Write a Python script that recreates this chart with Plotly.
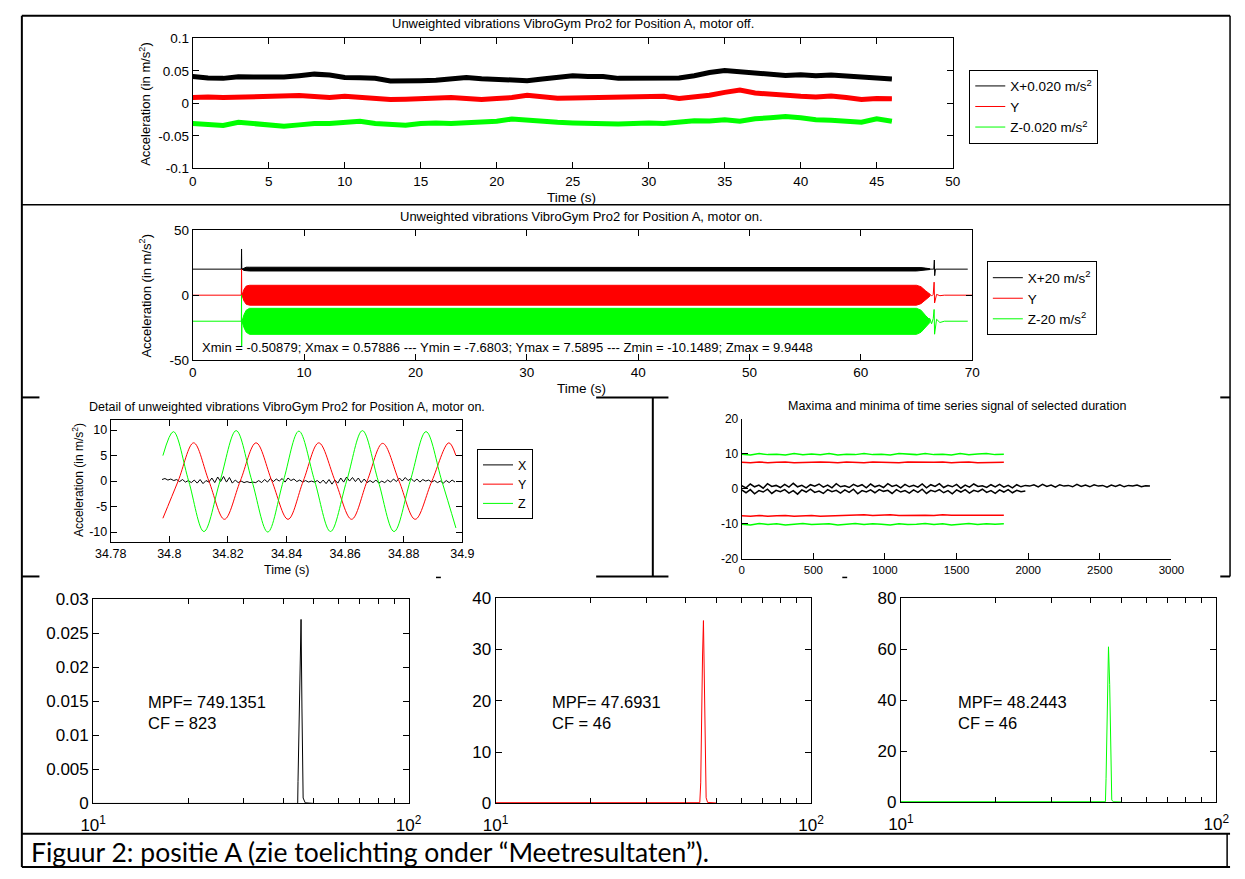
import numpy as np
import plotly.graph_objects as go

W, H = 1245, 879
FONT = "Liberation Sans, Arial, sans-serif"
BLACK, RED, GREEN = "#000000", "#ff0000", "#00ff00"

# ---------------- Panel 1: motor off ----------------
off_t = list(range(0, 47))
off_x = [0.0415, 0.039, 0.0385, 0.041, 0.0405, 0.040, 0.0405, 0.0425, 0.045, 0.0435,
         0.040, 0.0395, 0.0385, 0.0345, 0.034, 0.035, 0.0355, 0.0375, 0.040, 0.038,
         0.0375, 0.0365, 0.035, 0.0375, 0.040, 0.0425, 0.0415, 0.0415, 0.0385, 0.0385,
         0.0385, 0.0375, 0.039, 0.0425, 0.0475, 0.0505, 0.0485, 0.046, 0.0435, 0.043,
         0.044, 0.0425, 0.0435, 0.042, 0.0405, 0.039, 0.0375]
off_y = [0.009, 0.010, 0.009, 0.0095, 0.010, 0.011, 0.0105, 0.012, 0.0105, 0.009,
         0.011, 0.0095, 0.0075, 0.006, 0.0065, 0.0075, 0.0085, 0.009, 0.0075, 0.006,
         0.0075, 0.009, 0.0125, 0.010, 0.008, 0.0085, 0.009, 0.0095, 0.010, 0.0095,
         0.010, 0.011, 0.0075, 0.010, 0.0125, 0.017, 0.0205, 0.016, 0.014, 0.0125,
         0.011, 0.010, 0.0115, 0.009, 0.006, 0.0075, 0.007]
off_z = [-0.031, -0.0325, -0.034, -0.029, -0.031, -0.0325, -0.035, -0.033, -0.031, -0.031,
         -0.030, -0.0275, -0.031, -0.033, -0.0335, -0.031, -0.030, -0.031, -0.030, -0.029,
         -0.0275, -0.024, -0.026, -0.0275, -0.029, -0.030, -0.031, -0.031, -0.0315, -0.031,
         -0.030, -0.031, -0.029, -0.0265, -0.027, -0.025, -0.0275, -0.0235, -0.022, -0.020,
         -0.022, -0.025, -0.026, -0.0275, -0.029, -0.0235, -0.0275]
off_names = ["X+0.020 m/s<sup>2</sup>", "Y", "Z-0.020 m/s<sup>2</sup>"]

# ---------------- Panel 2: motor on ----------------
on_x_t = [0, 4.36, 4.38, 4.40, 66.55, 66.60, 66.63, 66.70, 69.6]
on_x = [20, 20, 35.5, 20, 20, 27, 15, 20, 20]
on_y_t = [0, 4.36, 4.38, 4.40, 66.2, 66.35, 66.5, 66.58, 66.62, 66.8, 67.1, 67.5, 70]
on_y = [0, 0, 20, 0, 0.8, -0.7, 0.6, 10, -6, 0.6, -0.4, 0, 0]
on_z_t = [0, 4.36, 4.38, 4.39, 4.42, 66.2, 66.35, 66.5, 66.58, 66.62, 66.8, 67.1, 67.5, 69.6]
on_z = [-20, -20, 0, -39, -20, -18, -22, -18, -11, -30, -18.5, -21, -20, -20]
env_t = [4.42, 4.6, 4.8, 5.1, 65.0, 65.4, 65.8, 66.2]
env_x_hi = [20, 21.0, 21.5, 21.5, 21.5, 21.2, 20.8, 20.3]
env_x_lo = [20, 19.0, 18.6, 18.6, 18.6, 18.9, 19.3, 19.7]
env_y_hi = [0, 4.5, 7.0, 7.6, 7.6, 6.5, 3.5, 0.8]
env_y_lo = [0, -4.5, -7.0, -7.7, -7.7, -6.5, -3.5, -0.8]
env_z_hi = [-20, -15, -11.5, -10.1, -10.1, -11.5, -15.5, -19]
env_z_lo = [-20, -25, -28.5, -30.1, -30.1, -28.5, -24.5, -21]
on_names = ["X+20 m/s<sup>2</sup>", "Y", "Z-20 m/s<sup>2</sup>"]
on_stats = ("Xmin = -0.50879; Xmax = 0.57886 --- Ymin = -7.6803; Ymax = 7.5895 --- "
            "Zmin = -10.1489; Zmax = 9.9448")

# ---------------- Panel 3: detail ----------------
det_t0, det_dt = 34.7975, 0.001
det_x = [0.3, 0.5, 0.2, 0.4, 0.1, 0.3, -0.1, 0.3, -0.2, 0.1,
         -0.3, 0.2, -0.4, 0.3, -0.5, 0.1, -0.2, 0.6, -0.3, 0.8,
         -0.1, 0.9, -0.2, 0.7, -0.4, 0.2, -0.3, 0.0, -0.3, -0.1,
         -0.3, -0.2, -0.3, 0.1, -0.3, 0.3, -0.2, 0.5, -0.1, 0.4,
         0.0, 0.5, -0.2, 0.6, 0.1, 0.4, -0.1, 0.2, -0.2, 0.1,
         -0.2, 0.0, -0.2, 0.1, -0.4, 0.2, -0.5, 0.3, -0.6, 0.2,
         -0.4, 0.6, -0.2, 0.8, 0.0, 0.7, -0.1, 0.6, -0.3, 0.4,
         -0.3, 0.1, -0.3, 0.2, -0.4, 0.0, -0.3, 0.2, -0.2, 0.4,
         -0.1, 0.6, 0.0, 0.7, 0.1, 0.5, -0.1, 0.4, -0.2, 0.3,
         0.0, 0.2, -0.2, 0.1, -0.3, 0.0, -0.4, 0.1, -0.3, 0.2, -0.2]
det_x_t = list(det_t0 + det_dt * np.arange(len(det_x)))
det_y_t = [34.7978, 34.8030, 34.8083, 34.8135, 34.8188, 34.8242, 34.8296, 34.8350, 34.8405,
           34.8457, 34.8510, 34.8566, 34.8622, 34.8675, 34.8728, 34.8784, 34.8839, 34.8896,
           34.8954, 34.8978]
det_y = [-7.3, 0, 7.5, 0, -7.5, 0, 7.5, 0, -7.5, 0, 7.5, 0, -7.5, 0, 7.4, 0, -7.5, 0, 7.5, 5.0]
det_z_t = [34.7978, 34.8014, 34.8066, 34.8118, 34.8173, 34.8228, 34.8282, 34.8336, 34.8389,
           34.8442, 34.8496, 34.8550, 34.8605, 34.8659, 34.8713, 34.8767, 34.8822, 34.8876,
           34.8930, 34.8978]
det_z = [5.0, 9.7, 0, -9.9, 0, 9.9, 0, -10.0, 0, 9.8, 0, -9.9, 0, 9.9, 0, -9.9, 0, 9.7, 0, -9.2]
det_ticks = [34.78, 34.80, 34.82, 34.84, 34.86, 34.88, 34.90]
det_ticktext = ["34.78", "34.8", "34.82", "34.84", "34.86", "34.88", "34.9"]

# ---------------- Panel 4: maxima / minima ----------------
mm_idx = list(range(0, 1831, 61))
mm_gmax = [9.9, 9.7, 10.1, 9.8, 9.9, 9.7, 10.1, 9.8, 10.0, 9.8, 10.1, 9.7, 9.9, 9.8, 10.1, 9.8,
           9.9, 9.7, 10.1, 9.9, 9.8, 10.1, 9.8, 9.9, 9.7, 10.1, 9.8, 10.0, 10.1, 9.8, 9.9]
mm_rmax = [7.6, 7.5, 7.7, 7.5, 7.6, 7.7, 7.5, 7.6, 7.5, 7.7, 7.6, 7.5, 7.7, 7.6, 7.5, 7.7,
           7.6, 7.6, 7.5, 7.7, 7.6, 7.5, 7.6, 7.7, 7.5, 7.6, 7.7, 7.5, 7.6, 7.6, 7.6]
mm_rmin = [-7.7, -7.8, -7.6, -7.8, -7.7, -7.6, -7.8, -7.7, -7.6, -7.8, -7.7, -7.6, -7.5, -7.6,
           -7.4, -7.6, -7.5, -7.4, -7.6, -7.5, -7.4, -7.5, -7.6, -7.4, -7.5, -7.5, -7.4, -7.6,
           -7.5, -7.4, -7.5]
mm_gmin = [-10.1, -10.3, -9.9, -10.2, -10.0, -10.3, -10.1, -9.9, -10.2, -10.1, -10.0, -10.3,
           -10.1, -9.9, -10.2, -10.0, -10.1, -10.3, -10.0, -10.2, -10.1, -9.9, -10.2, -10.0,
           -10.3, -10.1, -9.9, -10.2, -10.0, -10.1, -10.0]
mm_xmax_idx = list(range(0, 2851, 30))
mm_xmax = [0.9, 0.3, 1.4, 0.6, 1.1, 0.2, 1.5, 0.7, 1.0, 0.4, 1.3, 0.5, 1.6, 0.6, 1.0, 0.3, 1.2, 0.8, 1.4, 0.5,
           1.1, 0.3, 1.5, 0.6, 0.9, 0.4, 1.3, 0.7, 1.2, 0.3, 1.4, 0.6, 1.0, 0.4, 1.5, 0.7, 1.1, 0.3, 1.3, 0.6,
           1.0, 0.5, 1.4, 0.3, 1.2, 0.7, 1.5, 0.4, 1.0, 0.6, 1.3, 0.2, 1.1, 0.5, 1.4, 0.7, 0.9, 0.4, 1.2, 0.6,
           1.3, 0.5, 1.0, 0.3, 1.2, 0.6, 1.0,
           0.8, 1.2, 0.6, 1.3, 0.7, 1.1, 0.5, 1.2, 0.8, 1.0, 0.6, 1.3, 0.7, 1.1, 0.6, 1.2, 0.8, 1.0, 0.5, 1.1,
           0.7, 1.2, 0.6, 1.0, 0.8, 1.1, 0.6, 0.9, 0.8]
mm_xmin_idx = list(range(0, 2001, 30))
mm_xmin = [-0.3, -1.1, -0.2, -1.4, -0.5, -0.9, -0.1, -1.3, -0.4, -0.8, -0.2, -1.2, -0.5, -1.5, -0.3, -0.9, -0.1, -1.0, -0.6, -1.3,
           -0.2, -0.8, -0.4, -1.2, -0.3, -1.0, -0.1, -1.4, -0.5, -0.9, -0.3, -1.1, -0.2, -0.7, -0.4, -1.3, -0.2, -0.9, -0.5, -1.2,
           -0.3, -1.0, -0.1, -1.3, -0.4, -0.8, -0.2, -1.1, -0.5, -1.4, -0.3, -0.9, -0.2, -1.2, -0.4, -0.8, -0.1, -1.0, -0.5, -1.3,
           -0.3, -0.9, -0.2, -1.1, -0.4, -0.8, -0.6]

# ---------------- Panels 5-7: spectra ----------------
spec_x_f = [10, 44.5, 44.6, 45.2, 45.6, 45.9, 46.3, 47.0, 50]
spec_x_a = [0, 0, 0.0032, 0.0217, 0.027, 0.014, 0.0008, 0.0001, 0]
spec_y_f = [10, 44.4, 44.7, 44.9, 45.3, 45.6, 46.0, 46.5, 47.0, 50]
spec_y_a = [0.15, 0.15, 4.0, 14.7, 28.7, 35.6, 18.5, 1.1, 0.2, 0.1]
spec_z_f = [10, 44.5, 44.7, 45.1, 45.5, 45.9, 46.2, 46.6, 47.1, 50]
spec_z_a = [0.3, 0.3, 9.3, 36.7, 60.9, 46.2, 16.9, 1.0, 0.3, 0.2]
spec_labels = ["MPF= 749.1351<br>CF = 823", "MPF= 47.6931<br>CF = 46", "MPF= 48.2443<br>CF = 46"]
log_major = [10, 100]
log_major_text = ["10<sup>1</sup>", "10<sup>2</sup>"]
log_minor = [20, 30, 40, 50, 60, 70, 80, 90]

caption = "Figuur 2: positie A (zie toelichting onder \u201cMeetresultaten\u201d)."


def px(p):
    return p / W


def py(p):
    return 1 - p / H


fig = go.Figure()

# Panel 1: thick noisy-looking traces, plus thin ones for the legend keys
for vals, col in zip([off_x, off_y, off_z], [BLACK, RED, GREEN]):
    fig.add_trace(go.Scatter(x=off_t, y=vals, mode="lines", showlegend=False,
                             line=dict(color=col, width=5), xaxis="x", yaxis="y"))
for vals, col, name in zip([off_x, off_y, off_z], [BLACK, RED, GREEN], off_names):
    fig.add_trace(go.Scatter(x=off_t, y=vals, mode="lines", name=name,
                             line=dict(color=col, width=1), xaxis="x", yaxis="y",
                             legend="legend"))

# Panel 2 envelopes
for hi, lo, col in [(env_x_hi, env_x_lo, BLACK), (env_y_hi, env_y_lo, RED), (env_z_hi, env_z_lo, GREEN)]:
    fig.add_trace(go.Scatter(x=env_t + env_t[::-1], y=hi + lo[::-1], mode="lines",
                             fill="toself", fillcolor=col, line=dict(color=col, width=1),
                             showlegend=False, xaxis="x2", yaxis="y2", hoverinfo="skip"))
for tt, vals, col, name in zip([on_x_t, on_y_t, on_z_t], [on_x, on_y, on_z],
                               [BLACK, RED, GREEN], on_names):
    fig.add_trace(go.Scatter(x=tt, y=vals, mode="lines", name=name,
                             line=dict(color=col, width=1), xaxis="x2", yaxis="y2",
                             legend="legend2"))

# Panel 3
fig.add_trace(go.Scatter(x=det_x_t, y=det_x, mode="lines", name="X",
                         line=dict(color=BLACK, width=1), xaxis="x3", yaxis="y3", legend="legend3"))
fig.add_trace(go.Scatter(x=det_y_t, y=det_y, mode="lines", name="Y",
                         line=dict(color=RED, width=1, shape="spline", smoothing=1),
                         xaxis="x3", yaxis="y3", legend="legend3"))
fig.add_trace(go.Scatter(x=det_z_t, y=det_z, mode="lines", name="Z",
                         line=dict(color=GREEN, width=1, shape="spline", smoothing=1),
                         xaxis="x3", yaxis="y3", legend="legend3"))

# Panel 4
for xx, vals, col, w in [(mm_idx, mm_gmax, GREEN, 1.5), (mm_idx, mm_rmax, RED, 1.5),
                         (mm_xmax_idx, mm_xmax, BLACK, 1.5), (mm_xmin_idx, mm_xmin, BLACK, 1.5),
                         (mm_idx, mm_rmin, RED, 1.5), (mm_idx, mm_gmin, GREEN, 1.5)]:
    fig.add_trace(go.Scatter(x=xx, y=vals, mode="lines", line=dict(color=col, width=w),
                             showlegend=False, xaxis="x4", yaxis="y4"))

# Panels 5-7
for i, (ff, aa, col) in enumerate([(spec_x_f, spec_x_a, BLACK), (spec_y_f, spec_y_a, RED),
                                   (spec_z_f, spec_z_a, GREEN)]):
    fig.add_trace(go.Scatter(x=ff, y=aa, mode="lines", line=dict(color=col, width=1),
                             showlegend=False, xaxis=f"x{5 + i}", yaxis=f"y{5 + i}"))


def axis(domain, anchor, size, mirror=True, **kw):
    d = dict(domain=domain, anchor=anchor, showline=True, linecolor="#000000", linewidth=1,
             mirror="ticks" if mirror else False, ticks="inside", ticklen=6, tickcolor="#000000",
             showgrid=False, zeroline=False, tickfont=dict(family=FONT, size=size, color="#000000"))
    d.update(kw)
    return d


def logaxis(domain, anchor):
    return axis(domain, anchor, 17, type="log", range=[1, 2], tickvals=log_major,
                ticktext=log_major_text, ticklen=5, ticklabelstandoff=6,
                minor=dict(tickvals=log_minor, ticks="inside", ticklen=5, tickcolor="#000000"))


layout = dict(
    width=W, height=H, margin=dict(l=0, r=0, t=0, b=0),
    paper_bgcolor="white", plot_bgcolor="white",
    font=dict(family=FONT, size=12, color="#000000"),
    # panel 1
    xaxis=axis([px(181), px(959)], "y", 13.5, range=[0, 50], dtick=5),
    yaxis=axis([py(163), py(30)], "x", 13.5, range=[-0.1, 0.1],
               tickvals=[-0.1, -0.05, 0, 0.05, 0.1], ticktext=["-0.1", "-0.05", "0", "0.05", "0.1"]),
    # panel 2
    xaxis2=axis([px(181), px(979)], "y2", 13.5, range=[0, 70], dtick=10),
    yaxis2=axis([py(359), py(226)], "x2", 13.5, range=[-50, 50],
                tickvals=[-50, 0, 50], ticktext=["-50", "0", "50"]),
    # panel 3
    xaxis3=axis([px(97), px(457)], "y3", 12.5, range=[34.78, 34.9],
                tickvals=det_ticks, ticktext=det_ticktext),
    yaxis3=axis([py(545), py(420)], "x3", 12.5, range=[-12, 12],
                tickvals=[-10, -5, 0, 5, 10], ticktext=["-10", "-5", "0", "5", "10"]),
    # panel 4
    xaxis4=axis([px(743), px(1183)], "y4", 11.5, mirror=False, range=[0, 3000], dtick=500),
    yaxis4=axis([py(562), py(419)], "x4", 12, mirror=False, range=[-20, 20],
                tickvals=[-20, -10, 0, 10, 20], ticktext=["-20", "-10", "0", "10", "20"]),
    # panels 5-7
    xaxis5=logaxis([px(79), px(402)], "y5"),
    yaxis5=axis([py(812), py(603)], "x5", 17, range=[0, 0.03],
                tickvals=[0, 0.005, 0.01, 0.015, 0.02, 0.025, 0.03],
                ticktext=["0", "0.005", "0.01", "0.015", "0.02", "0.025", "0.03"]),
    xaxis6=logaxis([px(491), px(814)], "y6"),
    yaxis6=axis([py(812), py(602)], "x6", 17, range=[0, 40], dtick=10),
    xaxis7=logaxis([px(906), px(1229)], "y7"),
    yaxis7=axis([py(811), py(602)], "x7", 17, range=[0, 80], dtick=20),
    legend=dict(x=px(976), y=py(62), xanchor="left", yanchor="top", bgcolor="white",
                bordercolor="#000000", borderwidth=1, font=dict(family=FONT, size=13.5)),
    legend2=dict(x=px(994), y=py(258), xanchor="left", yanchor="top", bgcolor="white",
                 bordercolor="#000000", borderwidth=1, font=dict(family=FONT, size=13.5)),
    legend3=dict(x=px(472), y=py(450), xanchor="left", yanchor="top", bgcolor="white",
                 bordercolor="#000000", borderwidth=1, font=dict(family=FONT, size=12.5)),
)
fig.update_layout(**layout)

annotations = []


def ann(text, x, y, size=12, xanchor="center", angle=0, align="center", family=FONT):
    annotations.append(dict(text=text, x=px(x), y=py(y), xref="paper", yref="paper",
                            xanchor=xanchor, yanchor="middle", showarrow=False, textangle=angle,
                            align=align, font=dict(family=family, size=size, color="#000000")))


ann("Unweighted vibrations VibroGym Pro2 for Position A, motor off.", 570, 15, 13)
ann("Unweighted vibrations VibroGym Pro2 for Position A, motor on.", 579, 212, 13)
ann("Detail of unweighted vibrations VibroGym Pro2 for Position A, motor on.", 277, 407, 12.5)
ann("Maxima and minima of time series signal of selected duration", 963, 406, 12.5)
ann("Time (s)", 569, 193, 13.5)
ann("Time (s)", 579, 388, 13.5)
ann("Time (s)", 277, 573, 12.5)
ann("Acceleration (in m/s<sup>2</sup>)", 132, 97, 13, angle=-90)
ann("Acceleration (in m/s<sup>2</sup>)", 132, 293, 13, angle=-90)
ann("Acceleration (in m/s<sup>2</sup>)", 63, 482, 12, angle=-90)
ann(on_stats, 188, 346, 13, xanchor="left")
for lbl, xl in zip(spec_labels, [133, 547, 962]):
    ann(lbl, xl, 719, 16.5, xanchor="left", align="left")
ann(caption, 13, 862, 26.5, xanchor="left", family="Lato, Carlito, Calibri, sans-serif")
fig.update_layout(annotations=annotations)

# table borders of the document figure
borders = [
    (6, 7, 1243, 7, 2), (6, 7, 6, 877, 2), (1243, 7, 1243, 580, 1.5), (6, 200, 1243, 200, 1.5),
    (6, 397, 24, 397, 2), (594, 397, 668, 397, 2), (1233, 397, 1243, 397, 2),
    (652, 397, 652, 580, 2),
    (6, 580, 24, 580, 2), (594, 580, 668, 580, 2), (1233, 580, 1243, 580, 2),
    (430, 581, 435, 581, 1.5), (846, 581, 851, 581, 1.5),
    (6, 843, 1243, 843, 2), (1240, 843, 1240, 877, 1.5), (6, 877, 1243, 877, 2),
]
fig.update_layout(shapes=[dict(type="line", xref="paper", yref="paper", x0=px(a), y0=py(b),
                               x1=px(c), y1=py(d), line=dict(color="#000000", width=w))
                          for a, b, c, d, w in borders])

fig.write_html("out.html")
